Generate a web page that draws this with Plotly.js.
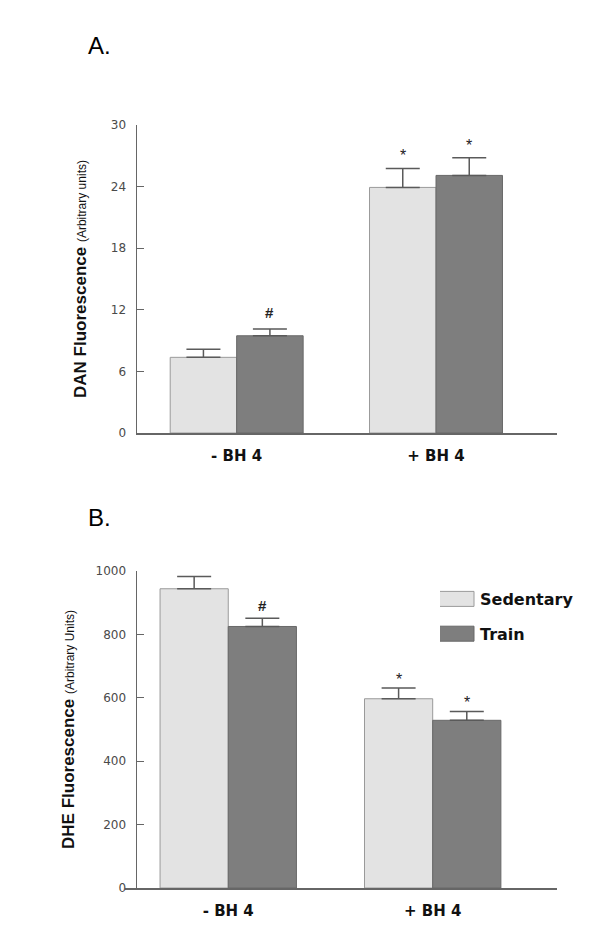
<!DOCTYPE html>
<html>
<head>
<meta charset="utf-8">
<script src="https://cdn.plot.ly/plotly-3.0.1.min.js"></script>
<style>
html,body{margin:0;padding:0;background:#fff;}
#chart{width:600px;height:952px;}
/* widen legend swatches to match the reference's long rectangular keys */
#chart .legend .legendpoints path{ d: path("M14,7.5H-26V-7.5H14Z"); }
</style>
</head>
<body>
<div id="chart"></div>
<script>
// ---- data ----
const categories = ['- BH 4', '+ BH 4'];
const seriesNames = ['Sedentary', 'Train'];
const danSed = [7.37, 23.92];
const danSedErr = [0.78, 1.85];
const danTrain = [9.47, 25.09];
const danTrainErr = [0.66, 1.71];
const dheSed = [944, 597];
const dheSedErr = [39, 34];
const dheTrain = [825, 529];
const dheTrainErr = [26, 28];
const danSedMarks = ['', '*'];
const danTrainMarks = ['#', '*'];
const dheSedMarks = ['', '*'];
const dheTrainMarks = ['#', '*'];
const danTicks = [0, 6, 12, 18, 24, 30];
const dheTicks = [0, 200, 400, 600, 800, 1000];

// ---- style ----
const sedFill = '#e3e3e3', sedLine = '#9a9a9a';
const trFill = '#7e7e7e', trLine = '#686868';
const errColor = '#5a5a5a';
const bargap = 0.333;
const W = 600, H = 952;

function bar(name, x, y, err, fill, line, xa, ya, show, grp) {
  return {
    type: 'bar', name: name, x: x, y: y, xaxis: xa, yaxis: ya,
    showlegend: show, legendgroup: grp,
    marker: {color: fill, line: {color: line, width: 1}},
    error_y: {type: 'data', array: err, arrayminus: err.map(() => 0), symmetric: false,
              color: errColor, thickness: 1.5, width: 17},
    hoverinfo: 'skip'
  };
}

const traces = [
  bar(seriesNames[0], categories, danSed, danSedErr, sedFill, sedLine, 'x', 'y', false, 'g1'),
  bar(seriesNames[1], categories, danTrain, danTrainErr, trFill, trLine, 'x', 'y', false, 'g2'),
  bar(seriesNames[0], categories, dheSed, dheSedErr, sedFill, sedLine, 'x2', 'y2', true, 'g1'),
  bar(seriesNames[1], categories, dheTrain, dheTrainErr, trFill, trLine, 'x2', 'y2', true, 'g2')
];

const half = (1 - bargap) / 4;
const annotations = [];
function addMarks(vals, errs, marks, side, xr, yr, lift) {
  vals.forEach((v, i) => {
    if (!marks[i]) return;
    annotations.push({
      xref: xr, yref: yr, x: i + side * half, y: v + errs[i],
      text: marks[i] === '#' ? '<b>#</b>' : '*', showarrow: false,
      yanchor: 'bottom', yshift: (marks[i] === '#' ? 2 : -2) + lift,
      font: {family: 'Liberation Sans, Arial, sans-serif', size: marks[i] === '#' ? 15 : 16, color: '#222'}
    });
  });
}
addMarks(danSed, danSedErr, danSedMarks, -1, 'x', 'y', 4);
addMarks(danTrain, danTrainErr, danTrainMarks, 1, 'x', 'y', 4);
addMarks(dheSed, dheSedErr, dheSedMarks, -1, 'x2', 'y2', 0);
addMarks(dheTrain, dheTrainErr, dheTrainMarks, 1, 'x2', 'y2', 0);

annotations.push({xref: 'paper', yref: 'paper', x: 86 / W, y: 1 - 45 / H, xanchor: 'left', yanchor: 'middle',
  text: 'A.', showarrow: false, font: {family: 'Liberation Sans, Arial, sans-serif', size: 24, color: '#000'}});
annotations.push({xref: 'paper', yref: 'paper', x: 86 / W, y: 1 - 517 / H, xanchor: 'left', yanchor: 'middle',
  text: 'B.', showarrow: false, font: {family: 'Liberation Sans, Arial, sans-serif', size: 24, color: '#000'}});

const tickFont = {family: 'DejaVu Sans, sans-serif', size: 12, color: '#4a4a4a'};
const catFont = {family: 'DejaVu Sans, sans-serif', size: 15, color: '#111', weight: 'bold'};
const titleFont = {family: 'Liberation Sans, Arial, sans-serif', size: 17, color: '#111'};

function yax(domain, range, ticks, title, standoff) {
  return {
    domain: domain, range: range, tickvals: ticks, ticktext: ticks.map(String),
    ticks: 'inside', ticklen: 7, tickwidth: 1.2, tickcolor: '#666',
    showline: true, linecolor: '#666', linewidth: 1.5, showgrid: false, zeroline: false,
    tickfont: tickFont, ticklabelstandoff: 7, fixedrange: true, automargin: 'left',
    title: {text: title, font: titleFont, standoff: standoff}
  };
}
function xax(domain, range, anchor) {
  return {
    domain: domain, range: range, type: 'category', anchor: anchor,
    showline: true, linecolor: '#666', linewidth: 1.5, ticks: '', showgrid: false, zeroline: false,
    tickfont: catFont, ticklabelstandoff: 8, fixedrange: true, automargin: false
  };
}

const layout = {
  width: W, height: H, margin: {l: 0, r: 0, t: 0, b: 0, autoexpand: false},
  paper_bgcolor: '#fff', plot_bgcolor: '#fff',
  barmode: 'group', bargap: bargap, bargroupgap: 0,
  font: {family: 'Liberation Sans, Arial, sans-serif', color: '#111'},
  xaxis: xax([137 / W, 557 / W], [-0.5, 1.607], 'y'),
  yaxis: yax([1 - 433 / H, 1 - 125 / H], [0, 30], danTicks,
    '<b>DAN Fluorescence</b> <span style="font-size:12px;font-weight:normal;">(Arbitrary units)</span>', 20),
  xaxis2: xax([125 / W, 557 / W], [-0.505, 1.608], 'y2'),
  yaxis2: yax([1 - 888 / H, 1 - 571 / H], [0, 1000], dheTicks,
    '<b>DHE Fluorescence</b> <span style="font-size:12px;font-weight:normal;">(Arbitrary Units)</span>', 16),
  showlegend: true,
  legend: {x: 440 / W, y: 1 - 582 / H, xanchor: 'left', yanchor: 'top', bgcolor: 'rgba(0,0,0,0)',
    traceorder: 'grouped', tracegroupgap: 11,
    font: {family: 'DejaVu Sans, sans-serif', size: 16, color: '#111', weight: 'bold'}},
  annotations: annotations
};

Plotly.newPlot('chart', traces, layout, {staticPlot: true, displayModeBar: false});
</script>
</body>
</html>
